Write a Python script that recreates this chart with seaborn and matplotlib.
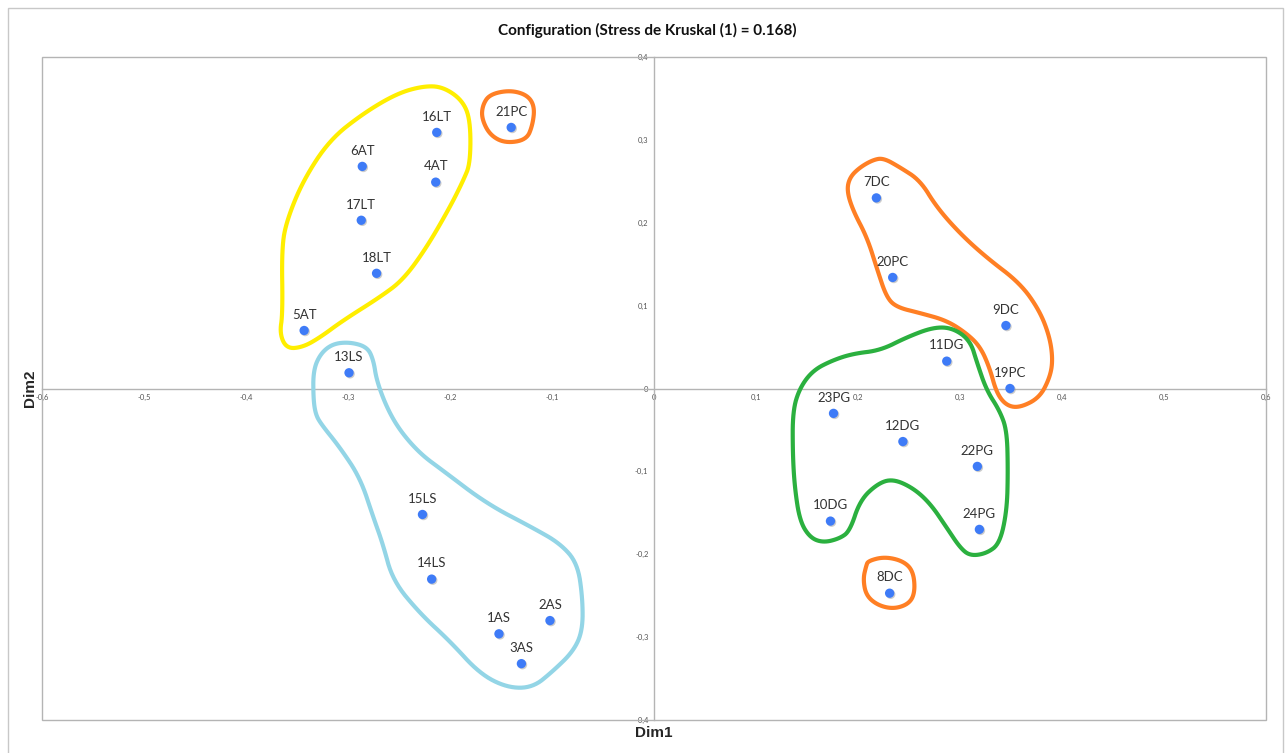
import numpy as np
import pandas as pd
import matplotlib
matplotlib.use("Agg")
import matplotlib.pyplot as plt
import matplotlib.patches as mpatches
import matplotlib.patheffects as pe
import seaborn as sns

# ---- data ----
labels = ["16LT", "6AT", "4AT", "17LT", "18LT", "5AT", "21PC", "13LS", "15LS", "14LS",
          "2AS", "1AS", "3AS", "7DC", "20PC", "9DC", "11DG", "19PC", "23PG", "12DG",
          "22PG", "10DG", "24PG", "8DC"]
dim1 = [-0.213, -0.286, -0.214, -0.287, -0.272, -0.343, -0.140, -0.299, -0.227, -0.218,
        -0.102, -0.152, -0.130, 0.218, 0.234, 0.345, 0.287, 0.349, 0.176, 0.244,
        0.317, 0.173, 0.319, 0.231]
dim2 = [0.309, 0.268, 0.249, 0.203, 0.139, 0.070, 0.315, 0.019, -0.152, -0.230,
        -0.280, -0.296, -0.332, 0.230, 0.134, 0.076, 0.033, 0.000, -0.030, -0.064,
        -0.094, -0.160, -0.170, -0.247]

# hand-drawn group outlines (Dim1, Dim2)
yellow_x = [-0.226, -0.207, -0.188, -0.180, -0.180, -0.187, -0.200, -0.223, -0.246, -0.269, -0.305,
            -0.327, -0.344, -0.360, -0.367, -0.364, -0.365, -0.360, -0.344, -0.318, -0.285, -0.252]
yellow_y = [0.365, 0.364, 0.348, 0.324, 0.272, 0.251, 0.219, 0.170, 0.131, 0.110, 0.082,
            0.062, 0.050, 0.048, 0.066, 0.091, 0.170, 0.203, 0.251, 0.300, 0.332, 0.356]
pc21_x = [-0.168, -0.161, -0.141, -0.124, -0.117, -0.119, -0.125, -0.146, -0.161, -0.169]
pc21_y = [0.342, 0.355, 0.360, 0.354, 0.340, 0.318, 0.300, 0.296, 0.306, 0.326]
cyan_x = [-0.298, -0.281, -0.275, -0.272, -0.262, -0.249, -0.229, -0.207, -0.164, -0.119, -0.092,
          -0.075, -0.070, -0.070, -0.079, -0.099, -0.119, -0.144, -0.171, -0.200, -0.229, -0.256,
          -0.266, -0.275, -0.288, -0.308, -0.327, -0.332, -0.334, -0.334, -0.327, -0.315]
cyan_y = [0.056, 0.050, 0.034, 0.010, -0.023, -0.051, -0.079, -0.099, -0.139, -0.168, -0.187,
          -0.211, -0.253, -0.292, -0.317, -0.341, -0.361, -0.361, -0.344, -0.305, -0.272, -0.232,
          -0.187, -0.156, -0.108, -0.071, -0.042, -0.030, -0.011, 0.022, 0.042, 0.054]
dc_x = [0.225, 0.241, 0.261, 0.277, 0.300, 0.326, 0.359, 0.378, 0.388, 0.391, 0.388, 0.378,
        0.359, 0.346, 0.336, 0.329, 0.320, 0.307, 0.287, 0.261, 0.238, 0.228, 0.219, 0.209,
        0.195, 0.189, 0.192, 0.202, 0.215]
dc_y = [0.278, 0.267, 0.251, 0.219, 0.187, 0.158, 0.127, 0.094, 0.062, 0.034, 0.013, -0.011,
        -0.023, -0.021, -0.006, 0.025, 0.050, 0.066, 0.082, 0.091, 0.098, 0.110, 0.143, 0.182,
        0.215, 0.239, 0.255, 0.267, 0.276]
green_x = [0.274, 0.293, 0.310, 0.317, 0.326, 0.339, 0.346, 0.347, 0.346, 0.339, 0.326, 0.310,
           0.300, 0.287, 0.271, 0.254, 0.234, 0.219, 0.202, 0.192, 0.182, 0.166, 0.153, 0.143,
           0.138, 0.136, 0.136, 0.143, 0.156, 0.175, 0.195, 0.222, 0.248]
green_y = [0.074, 0.073, 0.058, 0.030, -0.002, -0.027, -0.051, -0.099, -0.147, -0.187, -0.199,
           -0.202, -0.192, -0.168, -0.139, -0.120, -0.109, -0.115, -0.135, -0.172, -0.181, -0.186,
           -0.180, -0.160, -0.120, -0.079, -0.027, 0.001, 0.022, 0.034, 0.042, 0.046, 0.062]
dc8_x = [0.210, 0.226, 0.244, 0.254, 0.256, 0.251, 0.236, 0.220, 0.208, 0.205, 0.208]
dc8_y = [-0.208, -0.203, -0.208, -0.220, -0.244, -0.259, -0.266, -0.262, -0.250, -0.230, -0.214]

xticks = [-0.6, -0.5, -0.4, -0.3, -0.2, -0.1, 0, 0.1, 0.2, 0.3, 0.4, 0.5, 0.6]
yticks = [-0.4, -0.3, -0.2, -0.1, 0, 0.1, 0.2, 0.3, 0.4]

title = "Configuration (Stress de Kruskal (1) = 0.168)"


def chaikin(pts, n=3):
    # corner-cutting smoothing of a closed outline (drawing style only)
    for _ in range(n):
        nxt = np.roll(pts, -1, axis=0)
        q = 0.75 * pts + 0.25 * nxt
        r = 0.25 * pts + 0.75 * nxt
        pts = np.empty((2 * len(q), 2))
        pts[0::2] = q
        pts[1::2] = r
    return pts


# ---- plot ----
sns.set_style("white")
plt.rcParams['font.family'] = ['Lato', 'DejaVu Sans']

fig = plt.figure(figsize=(12.85, 7.53), dpi=100)
ax = fig.add_axes([42 / 1285, 33 / 753, 1224 / 1285, 663 / 753])

df = pd.DataFrame({"Dim1": dim1, "Dim2": dim2, "label": labels})

outlines = [
    (yellow_x, yellow_y, "#FFEE00"),
    (pc21_x, pc21_y, "#FF7F24"),
    (cyan_x, cyan_y, "#93D5E6"),
    (dc_x, dc_y, "#FF7F24"),
    (green_x, green_y, "#2BB03F"),
    (dc8_x, dc8_y, "#FF7F24"),
]
for xs, ys, col in outlines:
    pts = chaikin(np.column_stack([xs, ys]).astype(float))
    ax.add_patch(mpatches.Polygon(pts, closed=True, fill=False,
                                  edgecolor=col, linewidth=3.0, joinstyle="round", zorder=2))

sns.scatterplot(data=df, x="Dim1", y="Dim2", ax=ax, color="#3E7BF7", s=45,
                edgecolor="none", zorder=4, legend=False)
for coll in ax.collections:
    coll.set_path_effects([pe.SimplePatchShadow(offset=(0.8, -0.8), shadow_rgbFace="#9a9a9a", alpha=0.5),
                           pe.Normal()])

for lab, x, y in zip(labels, dim1, dim2):
    ax.annotate(lab, (x, y), xytext=(0, 7), textcoords="offset points", ha="center",
                va="bottom", fontsize=9.5, color="#333333", zorder=5)

ax.set_xlim(-0.6, 0.6)
ax.set_ylim(-0.4, 0.4)
ax.set_xticks(xticks)
ax.set_yticks(yticks)


def fmt(v):
    return ("%g" % v).replace(".", ",")


ax.set_xticklabels([fmt(v) for v in xticks])
ax.set_yticklabels([fmt(v) for v in yticks])
ax.tick_params(axis="both", direction="inout", length=4, width=0.8, color="#b0b0b0",
               labelsize=5.5, labelcolor="#555555", pad=2)

for side in ["top", "right"]:
    ax.spines[side].set_visible(False)
ax.spines["left"].set_position("zero")
ax.spines["bottom"].set_position("zero")
for side in ["left", "bottom"]:
    ax.spines[side].set_color("#b4b4b4")
    ax.spines[side].set_linewidth(1.0)
    ax.spines[side].set_zorder(1)

ax.add_patch(mpatches.Rectangle((0, 0), 1, 1, transform=ax.transAxes, fill=False,
                                edgecolor="#b4b4b4", linewidth=1.0, clip_on=False, zorder=1))

ax.set_xlabel("")
ax.set_ylabel("")
fig.text(654 / 1285, 1 - 733 / 753, "Dim1", ha="center", va="center", fontsize=11,
         fontweight="bold", family=["Liberation Sans", "DejaVu Sans"])
fig.text(30 / 1285, 1 - 388 / 753, "Dim2", ha="center", va="center", fontsize=11,
         fontweight="bold", rotation=90, family=["Liberation Sans", "DejaVu Sans"])
fig.text(647 / 1285, 1 - 30 / 753, title, ha="center", va="center", fontsize=11,
         fontweight="bold", color="#111111")

fig.patches.append(mpatches.Rectangle((8 / 1285, -0.01), 1275 / 1285, 745 / 753 + 0.01,
                                      transform=fig.transFigure, fill=False,
                                      edgecolor="#c8c8c8", linewidth=1.0))

fig.savefig("out.png", dpi=100)
